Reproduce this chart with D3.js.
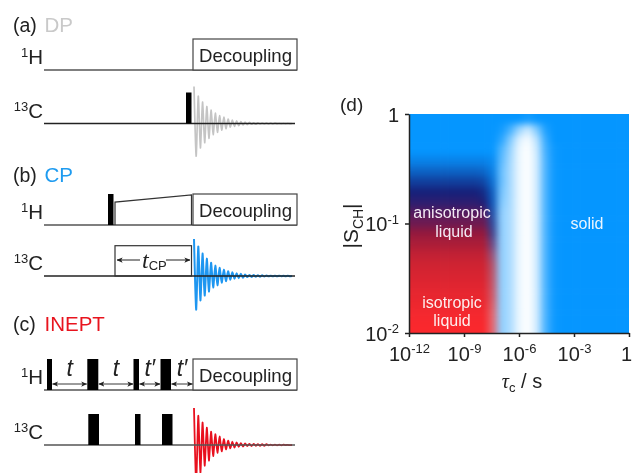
<!DOCTYPE html>
<html>
<head>
<meta charset="utf-8">
<script src="https://cdn.jsdelivr.net/npm/d3@7"></script>
<style>
  html, body { margin: 0; padding: 0; background: #fff; overflow: hidden; }
  svg { display: block; filter: blur(0.4px); }
  text { font-family: "Liberation Sans", Arial, sans-serif; fill: #222; }
</style>
</head>
<body>
<div id="chart"></div>
<script>
// Heatmap axes, log10 values at the middle of each cell
var tauColumns = [-12,-11.5,-11,-10.5,-10,-9.5,-9,-8.5,-8,-7.5,-7,-6.5,-6,-5.5,-5,-4.5,-4,-3.5,-3,-2.5,-2,-1.5,-1,-0.5,0];
var orderRows = [0,-0.1,-0.2,-0.3,-0.4,-0.5,-0.6,-0.7,-0.8,-0.9,-1,-1.1,-1.2,-1.3,-1.4,-1.5,-1.6,-1.7,-1.8,-1.9,-2];

// signal strength: 0 = white, 1 = full colour
var signalGrid = [
  [1,1,1,1,1,1,1,1,1,1,1,1,1,.95,1,1,1,1,1,1,1,1,1,1,1],
  [1,1,1,1,1,1,1,1,1,1,.95,.75,.4,.2,.5,.9,1,1,1,1,1,1,1,1,1],
  [1,1,1,1,1,1,1,1,1,1,.85,.5,.14,.03,.27,.8,1,1,1,1,1,1,1,1,1],
  [1,1,1,1,1,1,1,1,1,1,.7,.4,.08,0,.2,.75,.97,1,1,1,1,1,1,1,1],
  [1,1,1,1,1,1,1,1,1,1,.65,.36,.08,0,.18,.72,.97,1,1,1,1,1,1,1,1],
  [1,1,1,1,1,1,1,1,1,1,.6,.35,.08,0,.18,.72,.97,1,1,1,1,1,1,1,1],
  [1,1,1,1,1,1,1,1,1,1,.6,.35,.08,0,.18,.72,.97,1,1,1,1,1,1,1,1],
  [1,1,1,1,1,1,1,1,1,1,.55,.35,.08,0,.18,.72,.97,1,1,1,1,1,1,1,1],
  [1,1,1,1,1,1,1,1,1,1,.5,.34,.08,0,.18,.72,.97,1,1,1,1,1,1,1,1],
  [1,1,1,1,1,1,1,1,1,.95,.45,.33,.08,0,.18,.72,.97,1,1,1,1,1,1,1,1],
  [1,1,1,1,1,1,1,1,1,.9,.45,.33,.08,0,.18,.72,.97,1,1,1,1,1,1,1,1],
  [1,1,1,1,1,1,1,1,1,.85,.45,.33,.08,0,.18,.72,.97,1,1,1,1,1,1,1,1],
  [1,1,1,1,1,1,1,1,1,.8,.45,.33,.08,0,.18,.72,.97,1,1,1,1,1,1,1,1],
  [1,1,1,1,1,1,1,1,1,.75,.45,.33,.08,0,.18,.72,.97,1,1,1,1,1,1,1,1],
  [1,1,1,1,1,1,1,1,1,.75,.45,.33,.08,0,.18,.72,.97,1,1,1,1,1,1,1,1],
  [1,1,1,1,1,1,1,1,1,.75,.45,.33,.08,0,.18,.72,.97,1,1,1,1,1,1,1,1],
  [1,1,1,1,1,1,1,1,1,.75,.45,.33,.08,0,.18,.72,.97,1,1,1,1,1,1,1,1],
  [1,1,1,1,1,1,1,1,1,.75,.45,.33,.08,0,.18,.72,.97,1,1,1,1,1,1,1,1],
  [1,1,1,1,1,1,1,1,1,.72,.45,.33,.08,0,.18,.72,.97,1,1,1,1,1,1,1,1],
  [1,1,1,1,1,1,1,1,1,.7,.45,.33,.08,0,.18,.72,.97,1,1,1,1,1,1,1,1],
  [1,1,1,1,1,1,1,1,1,.7,.45,.33,.08,0,.18,.72,.97,1,1,1,1,1,1,1,1]
];

// position along the solid-to-isotropic colour ramp: 0 = blue, 1 = red
var mixGrid = [
  [0,0,0,0,0,0,0,0,0,0,0,0,0,0,0,0,0,0,0,0,0,0,0,0,0],
  [0,0,0,0,0,0,0,0,0,0,0,0,0,0,0,0,0,0,0,0,0,0,0,0,0],
  [0,0,0,0,0,0,0,0,0,0,0,0,0,0,0,0,0,0,0,0,0,0,0,0,0],
  [0,0,0,0,0,0,0,0,0,0,0,0,0,0,0,0,0,0,0,0,0,0,0,0,0],
  [.05,.05,.05,.05,.05,.05,.05,.05,.05,.03,0,0,0,0,0,0,0,0,0,0,0,0,0,0,0],
  [.13,.13,.13,.13,.13,.13,.13,.13,.12,.06,0,0,0,0,0,0,0,0,0,0,0,0,0,0,0],
  [.22,.22,.22,.22,.22,.22,.22,.22,.2,.1,0,0,0,0,0,0,0,0,0,0,0,0,0,0,0],
  [.3,.3,.3,.3,.3,.3,.3,.3,.27,.14,0,0,0,0,0,0,0,0,0,0,0,0,0,0,0],
  [.35,.35,.35,.35,.35,.35,.35,.35,.32,.16,0,0,0,0,0,0,0,0,0,0,0,0,0,0,0],
  [.44,.44,.44,.44,.44,.44,.44,.44,.44,.2,0,0,0,0,0,0,0,0,0,0,0,0,0,0,0],
  [.5,.5,.5,.5,.5,.5,.5,.5,.5,.25,0,0,0,0,0,0,0,0,0,0,0,0,0,0,0],
  [.6,.6,.6,.6,.6,.6,.6,.6,.6,.32,0,0,0,0,0,0,0,0,0,0,0,0,0,0,0],
  [.68,.68,.68,.68,.68,.68,.68,.68,.68,.4,0,0,0,0,0,0,0,0,0,0,0,0,0,0,0],
  [.76,.76,.76,.76,.76,.76,.76,.76,.76,.5,0,0,0,0,0,0,0,0,0,0,0,0,0,0,0],
  [.81,.81,.81,.81,.81,.81,.81,.81,.81,.6,0,0,0,0,0,0,0,0,0,0,0,0,0,0,0],
  [.85,.85,.85,.85,.85,.85,.85,.85,.85,.65,0,0,0,0,0,0,0,0,0,0,0,0,0,0,0],
  [.89,.89,.89,.89,.89,.89,.89,.89,.89,.7,0,0,0,0,0,0,0,0,0,0,0,0,0,0,0],
  [.92,.92,.92,.92,.92,.92,.92,.92,.92,.75,0,0,0,0,0,0,0,0,0,0,0,0,0,0,0],
  [.95,.95,.95,.95,.95,.95,.95,.95,.95,.8,0,0,0,0,0,0,0,0,0,0,0,0,0,0,0],
  [.98,.98,.98,.98,.98,.98,.98,.98,.98,.85,0,0,0,0,0,0,0,0,0,0,0,0,0,0,0],
  [1,1,1,1,1,1,1,1,1,.85,0,0,0,0,0,0,0,0,0,0,0,0,0,0,0]
];

var tauTicks = [1e-12,1e-9,1e-6,1e-3,1];
var orderTicks = [1e-2,1e-1,1];

// FID lobes, alternating up and down, percent of the first lobe
var fidDP = [100,-88,74,-66,58,-52,46,-40,36,-30,28,-24,21,-18,17,-14,12,-10,9,-8,7,-6,5,-4,4,-3,3,-2,2,-2,2,-1,1,-1,1,-1,1,-1,1,-.5,.5,-.5,.5,-.5,.5,-.5,0];
var fidCP = [100,-91,80,-66,61,-53,47,-42,36,-31,28,-25,22,-18,17,-14,13,-10,10,-7.5,7.5,-6,6,-5,4,-3,3,-2.5,2.5,-2,2,-2,2,-1.5,1.5,-1,1,-1,1,-1,1,-.5,.5,-.5,.5,-.5,0];
var fidINEPT = [100,-105,79,-75,61,-56,47,-42,36,-30,29,-21,23,-17,16,-12,12,-9,9,-7,7,-5,5,-4,4,-3,3,-3,3,-2,2,-2,2,-2,2,-1,1,-1,1,-1,1,-1,1,-.5,.5,-.5,0];

// pulse sequence timings along the time base [start, end]
var dpPulses13C = [[142,147.5]];
var cpPulses1H = [[64,69.5]];
var inept1H = [[3,8],[43.3,54.3],[89.5,95],[116.5,127]];
var inept13C = [[44.3,55],[91,96.5],[118,128.5]];
var ineptDelays = [[8,43.3],[54.3,89.5],[95,116.5],[127,149]];
var ineptDelayNames = ["t","t","t′","t′"];
var cpContact = [71,147.5];

var width = 632, height = 473;

var svg = d3.select("#chart")
  .append("svg")
  .attr("width", width)
  .attr("height", height);

var defs = svg.append("defs");

defs.append("filter")
  .attr("id", "soft")
  .attr("x", "-10%").attr("y", "-10%")
  .attr("width", "120%").attr("height", "120%")
  .attr("color-interpolation-filters", "sRGB")
  .append("feGaussianBlur")
  .attr("stdDeviation", 3.6);

defs.append("clipPath").attr("id", "plotClip")
  .append("rect")
  .attr("x", 409).attr("y", 114)
  .attr("width", 220).attr("height", 219);

defs.append("marker")
  .attr("id", "head")
  .attr("viewBox", "0 0 8 8")
  .attr("refX", 7.5).attr("refY", 4)
  .attr("markerWidth", 6).attr("markerHeight", 6)
  .attr("markerUnits", "userSpaceOnUse")
  .attr("orient", "auto-start-reverse")
  .append("path")
  .attr("d", "M0,0.5 L8,4 L0,7.5 L2,4 Z")
  .attr("fill", "#222");

// ---------- panel d ----------
var xScale = d3.scaleLog().domain([1e-12,1]).range([409,629]);
var yScale = d3.scaleLog().domain([1e-2,1]).range([333,114]);

var cellX = d3.scaleBand().domain(tauColumns).range(xScale.range());
var cellY = d3.scaleBand().domain(orderRows).range(yScale.range().slice().reverse());

var ramp = d3.scaleLinear()
  .domain([0,.3,.45,.6,.8,1])
  .range(["#0596ff","#16207a","#5a1a5c","#96193c","#cd2332","#fa282d"]);

var cells = [];
orderRows.forEach(function(r, i){
  tauColumns.forEach(function(c, j){
    cells.push({ row: r, col: c, i: i, j: j, signal: signalGrid[i][j], mix: mixGrid[i][j] });
  });
});

var bleed = 14;

svg.append("g")
  .attr("clip-path", "url(#plotClip)")
  .append("g")
  .attr("filter", "url(#soft)")
  .selectAll("rect")
  .data(cells)
  .enter()
  .append("rect")
  .attr("x", function(d){ return cellX(d.col) - (d.j === 0 ? bleed : 0); })
  .attr("y", function(d){ return cellY(d.row) - (d.i === 0 ? bleed : 0); })
  .attr("width", function(d){
    return cellX.bandwidth() + 0.6 + (d.j === 0 || d.j === tauColumns.length - 1 ? bleed : 0);
  })
  .attr("height", function(d){
    return cellY.bandwidth() + 0.6 + (d.i === 0 || d.i === orderRows.length - 1 ? bleed : 0);
  })
  .attr("fill", function(d){
    return d3.interpolateRgb("#ffffff", ramp(d.mix))(d.signal);
  });

function powerLabel(sel, size) {
  sel.each(function(d){
    var t = d3.select(this).text(null);
    var exp = Math.round(Math.log10(d));
    if (exp === 0) { t.text("1"); return; }
    t.append("tspan").text("10");
    t.append("tspan")
      .attr("font-size", size * 0.65)
      .attr("dy", -size * 0.38)
      .text(exp);
  });
}

var xAxis = d3.axisBottom(xScale).tickValues(tauTicks).tickSize(4).tickSizeOuter(0).tickPadding(5);
var yAxis = d3.axisLeft(yScale).tickValues(orderTicks).tickSize(4).tickSizeOuter(0).tickPadding(6);

var xAxisG = svg.append("g").attr("transform", "translate(0,333)").call(xAxis);
var yAxisG = svg.append("g").attr("transform", "translate(409,0)").call(yAxis);

[xAxisG, yAxisG].forEach(function(g){
  g.selectAll("path,line").attr("stroke", "#222").attr("stroke-width", 1.5);
  g.selectAll("text")
    .attr("font-size", 20)
    .attr("font-family", "Liberation Sans")
    .attr("fill", "#222")
    .call(powerLabel, 20);
});
xAxisG.selectAll("text").attr("y", 13.5);
yAxisG.selectAll("text").attr("dy", "0.36em");
// the last label sits at the window edge, keep it inside
xAxisG.selectAll("text").filter(function(d){ return d === 1; })
  .attr("text-anchor", "end")
  .attr("x", 2.5);

function label(x, y, str, size, fill, anchor) {
  return svg.append("text")
    .attr("x", x).attr("y", y)
    .attr("font-size", size)
    .attr("text-anchor", anchor || "start")
    .style("fill", fill || "#222")
    .text(str);
}

label(340, 111, "(d)", 19);
label(452, 218, "anisotropic", 16, "#f4eaf4", "middle");
label(454, 237, "liquid", 16, "#f4eaf4", "middle");
label(452, 308, "isotropic", 16, "#fdeeee", "middle");
label(452, 326, "liquid", 16, "#fdeeee", "middle");
label(587, 229, "solid", 16, "#eaf5ff", "middle");

var tauLabel = svg.append("text").attr("x", 522).attr("y", 388).attr("text-anchor", "middle").attr("font-size", 20);
tauLabel.append("tspan").attr("font-family", "Liberation Serif").attr("font-style", "italic").text("τ");
tauLabel.append("tspan").attr("font-size", 13).attr("dy", 4).text("c");
tauLabel.append("tspan").attr("dy", -4).text(" / s");

var orderLabel = svg.append("text")
  .attr("transform", "translate(358,226) rotate(-90)")
  .attr("text-anchor", "middle")
  .attr("font-size", 21);
orderLabel.append("tspan").text("|S");
orderLabel.append("tspan").attr("font-size", 14).attr("dy", 5).text("CH");
orderLabel.append("tspan").attr("dy", -5).text("|");

// ---------- panels a, b, c ----------
var seqX = d3.scaleLinear().domain([0,253]).range([44,297]);
var pulseY = d3.scaleLinear().domain([0,1]).range([0,-31]);
var fidY = d3.scaleLinear().domain([-100,100]).range([37,-37]);
var fidX = d3.scaleLinear().domain([0,46]).range([194,292]);

var fidLine = d3.line()
  .x(function(d, i){ return fidX(i); })
  .y(function(d){ return fidY(d); })
  .curve(d3.curveCardinal.tension(0.4));

function channel(label1, labelSup, baselineY, lineEnd, lineColor) {
  var t = svg.append("text").attr("x", 43).attr("y", baselineY - 6).attr("text-anchor", "end").attr("font-size", 20.5);
  t.append("tspan").attr("font-size", 13).attr("dy", -7).text(labelSup);
  t.append("tspan").attr("dy", 7).text(label1);
  svg.append("line")
    .attr("x1", seqX(0)).attr("x2", seqX(lineEnd))
    .attr("y1", baselineY).attr("y2", baselineY)
    .attr("stroke", lineColor).attr("stroke-width", 1.3);
}

function decoupling(baselineY) {
  svg.append("rect")
    .attr("x", seqX(149)).attr("y", baselineY + pulseY(1))
    .attr("width", seqX(253) - seqX(149)).attr("height", -pulseY(1))
    .attr("fill", "#fff").attr("stroke", "#444").attr("stroke-width", 1.2);
  label(245.5, baselineY - 8, "Decoupling", 18.6, "#222", "middle");
}

function pulses(list, baselineY) {
  svg.append("g").selectAll("rect")
    .data(list)
    .enter()
    .append("rect")
    .attr("x", function(d){ return seqX(d[0]); })
    .attr("width", function(d){ return seqX(d[1]) - seqX(d[0]); })
    .attr("y", baselineY + pulseY(1))
    .attr("height", -pulseY(1))
    .attr("fill", "#000");
}

function fid(values, baselineY, color, w) {
  svg.append("path")
    .datum(values)
    .attr("transform", "translate(0," + baselineY + ")")
    .attr("d", fidLine)
    .attr("fill", "none")
    .attr("stroke", color)
    .attr("stroke-width", w);
}

function arrow(x1, x2, y, w, oneEnd) {
  var a = svg.append("line")
    .attr("x1", x1).attr("x2", x2).attr("y1", y).attr("y2", y)
    .attr("stroke", "#222").attr("stroke-width", w || 1)
    .attr("marker-end", "url(#head)");
  if (!oneEnd) a.attr("marker-start", "url(#head)");
}

function title(y, tag, name, color) {
  label(13, y, tag, 19.5);
  label(44.5, y, name, 20.5, color);
}

// (a) DP
title(32, "(a)", "DP", "#c9c9c9");
channel("H", "1", 70, 253, "#555");
decoupling(70);
fid(fidDP, 123.5, "#c4c4c4", 1.7);
channel("C", "13", 123.5, 251, "#222");
pulses(dpPulses13C, 123.5);

// (b) CP
title(182, "(b)", "CP", "#1e9bf0");
channel("H", "1", 225, 253, "#555");
decoupling(225);
pulses(cpPulses1H, 225);
svg.append("path")
  .datum([[cpContact[0], 0], [cpContact[0], .74], [cpContact[1], .97], [cpContact[1], 0]])
  .attr("transform", "translate(0,225)")
  .attr("d", d3.line().x(function(d){ return seqX(d[0]); }).y(function(d){ return pulseY(d[1]); }))
  .attr("fill", "none").attr("stroke", "#333").attr("stroke-width", 1.2);
fid(fidCP, 276, "#1e96f0", 2);
channel("C", "13", 276, 251, "#222");
svg.append("rect")
  .attr("x", seqX(cpContact[0])).attr("y", 276 + pulseY(1) + 0.7)
  .attr("width", seqX(cpContact[1]) - seqX(cpContact[0])).attr("height", -pulseY(1) - 0.7)
  .attr("fill", "none").attr("stroke", "#333").attr("stroke-width", 1.2);
arrow(140, 117, 260, 1, true);
arrow(166, 190, 260, 1, true);
var tcp = svg.append("text").attr("x", 142).attr("y", 268).attr("font-size", 24);
tcp.append("tspan").attr("font-family", "Liberation Serif").attr("font-style", "italic").text("t");
tcp.append("tspan").attr("font-size", 13).attr("dy", 2).text("CP");

// (c) INEPT
title(331, "(c)", "INEPT", "#e8141e");
channel("H", "1", 390, 253, "#555");
decoupling(390);
pulses(inept1H, 390);
fid(fidINEPT, 445, "#e8101e", 1.8);
channel("C", "13", 445, 251, "#555");
pulses(inept13C, 445);

ineptDelays.forEach(function(d, i){
  arrow(seqX(d[0]) + 0.5, seqX(d[1]) - 0.5, 384, 0.9);
  svg.append("text")
    .attr("x", (seqX(d[0]) + seqX(d[1])) / 2)
    .attr("y", 376)
    .attr("text-anchor", "middle")
    .attr("font-size", 23)
    .attr("font-family", "Liberation Serif")
    .attr("font-style", "italic")
    .text(ineptDelayNames[i]);
});
</script>
</body>
</html>
